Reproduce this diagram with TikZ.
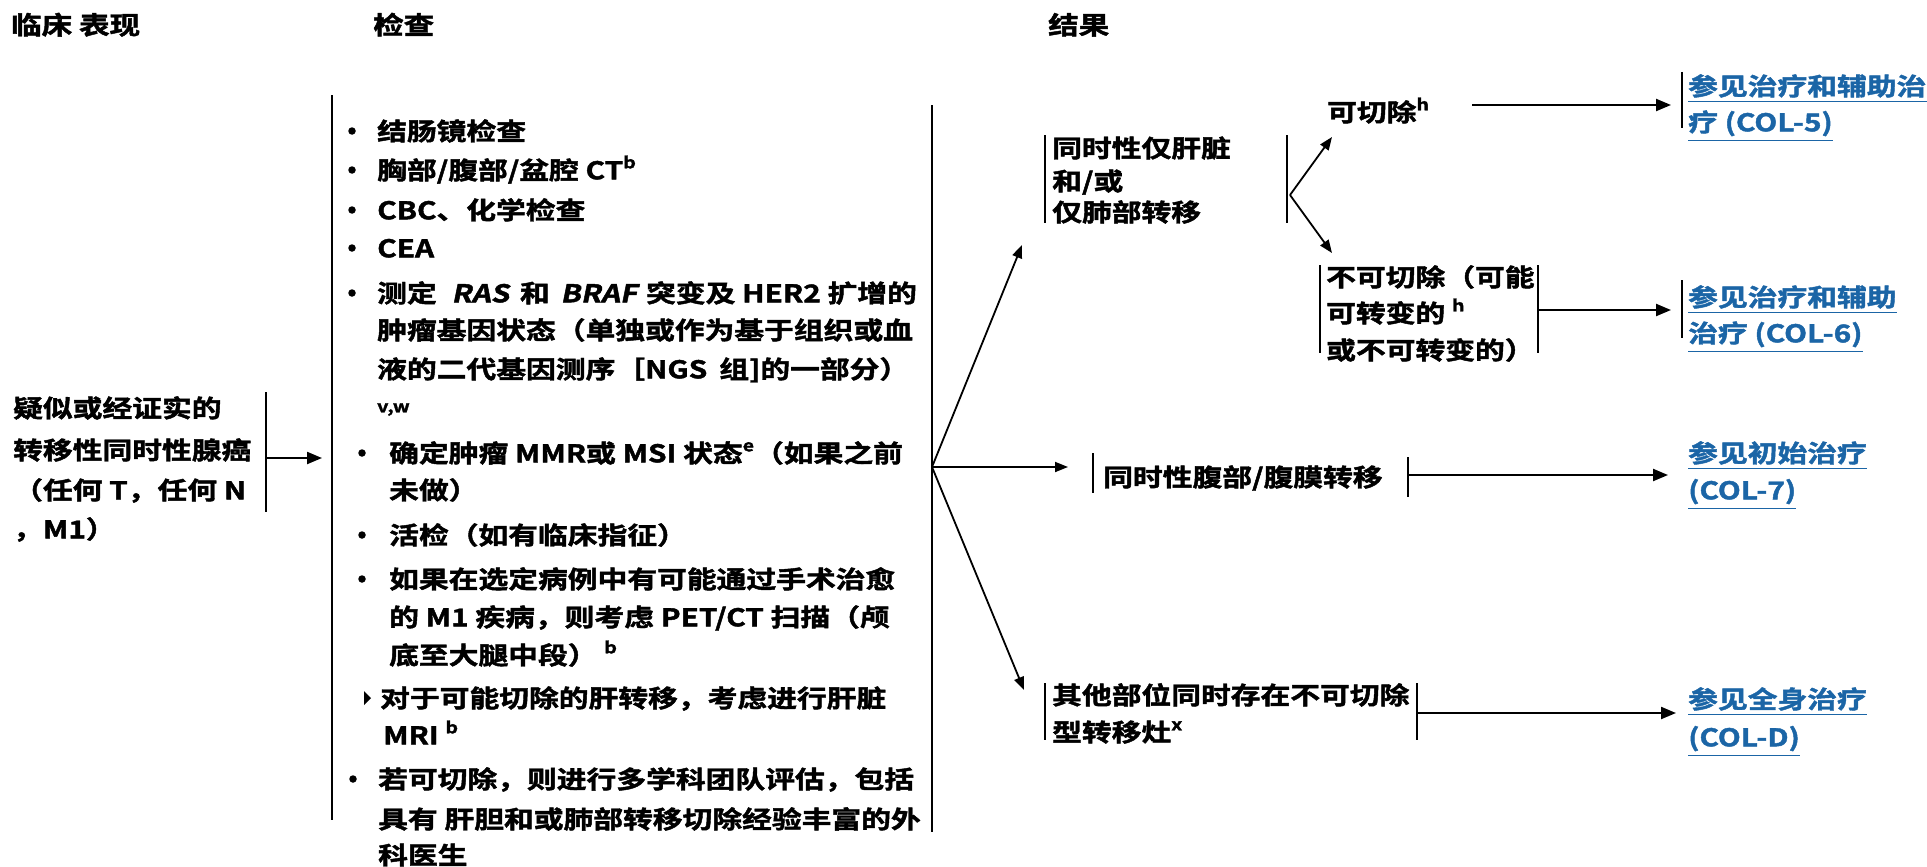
\documentclass[tikz,border=0pt]{standalone}
\usepackage{fontspec}
\newfontfamily\zh{Noto Sans CJK SC Bold}[FakeStretch=1.22,FakeBold=1.8,AutoFakeSlant=0.2]
\usetikzlibrary{arrows.meta}
\definecolor{lnk}{RGB}{27,101,166}
\newcommand\su[1]{\raisebox{0.45em}{\fontsize{16}{16}\selectfont #1}}
\begin{document}
\begin{tikzpicture}[x=1pt,y=-1pt,
  tx/.style={inner sep=0pt,anchor=west,text height=21.5pt,text depth=2.9pt,font=\zh\fontsize{24.4}{29}\selectfont},
  hd/.style={tx,font=\zh\fontsize{25}{30}\selectfont},
  lk/.style={tx,text=lnk},
  bar/.style={line width=1.8pt},
  con/.style={line width=2.2pt,-{Triangle[length=15pt,width=12pt]}},
  cons/.style={line width=1.8pt,-{Triangle[length=13pt,width=10pt]}},
  bul/.style={circle,fill,inner sep=0pt,minimum size=7.5pt},
  ul/.style={lnk,line width=1.6pt}]
\useasboundingbox (0,0) rectangle (1927,867);
% headers
\node[hd] (h1) at (11,25) {临床 表现};
\node[hd] (h2) at (373,25) {检查};
\node[hd] (h3) at (1048,25) {结果};
% presentation
\node[tx] (p1) at (13,408) {疑似或经证实的};
\node[tx] (p2) at (13,450) {转移性同时性腺癌};
\node[tx] (p3) at (13,490) {（任何 T，任何 N};
\node[tx] (p4) at (13,529) {，M1）};
\coordinate (pb1) at (266,392); \coordinate (pb2) at (266,512);
\draw[bar] (pb1) -- (pb2);
\coordinate (pa) at (266,458); \coordinate (wl) at (322,458);
\draw[con] (pa) -- (wl);
% workup column
\coordinate (wl1) at (332,95); \coordinate (wl2) at (332,820);
\draw[bar] (wl1) -- (wl2);
\coordinate (wr1) at (932,105); \coordinate (wr2) at (932,832);
\draw[bar] (wr1) -- (wr2);
\node[bul] (b1) at (352,131) {};
\node[tx] (w1) at (377,131) {结肠镜检查};
\node[bul] (b2) at (352,170) {};
\node[tx] (w2) at (377,170) {胸部/腹部/盆腔 CT\su{b}};
\node[bul] (b3) at (352,210) {};
\node[tx] (w3) at (377,210) {CBC、化学检查};
\node[bul] (b4) at (352,248) {};
\node[tx] (w4) at (377,248) {CEA};
\node[bul] (b5) at (352,293) {};
\node[tx] (w5) at (377,293) {测定\hspace{8pt} \itshape RAS\upshape{}\hspace{4pt} 和\hspace{4pt} \itshape BRAF\upshape{}\hspace{2pt} 突变及 HER2 扩增的};
\node[tx] (w6) at (377,330) {肿瘤基因状态（单独或作为基于组织或血};
\node[tx] (w7) at (377,369) {液的二代基因测序［NGS\hspace{12pt}组]的一部分）};
\node[tx,font=\zh\fontsize{16}{18}\selectfont] (w8) at (377,403) {v,w};
\node[bul] (b9) at (362,453) {};
\node[tx] (w9) at (389,453) {确定肿瘤 MMR或 MSI 状态\su{e}（如果之前};
\node[tx] (w10) at (389,490) {未做）};
\node[bul] (b11) at (362,535) {};
\node[tx] (w11) at (389,535) {活检（如有临床指征）};
\node[bul] (b12) at (362,579) {};
\node[tx] (w12) at (389,579) {如果在选定病例中有可能通过手术治愈};
\node[tx] (w13) at (389,617) {的 M1 疾病，则考虑 PET/CT 扫描（颅};
\node[tx] (w14) at (389,655) {底至大腿中段） \su{b}};
\fill (364,691) -- (371,698) -- (364,705) -- cycle;
\node[tx] (w15) at (380,698) {对于可能切除的肝转移，考虑进行肝脏};
\node[tx] (w16) at (383,735) {MRI \su{b}};
\node[bul] (b17) at (353,779) {};
\node[tx] (w17) at (378,779) {若可切除，则进行多学科团队评估，包括};
\node[tx] (w18) at (378,819) {具有 肝胆和或肺部转移切除经验丰富的外};
\node[tx] (w19) at (378,855) {科医生};
% main fork
\coordinate (fk) at (932,467);
\coordinate (t1) at (1022,245);
\coordinate (t3) at (1068,467);
\coordinate (t4) at (1024,690);
\draw[cons] (fk) -- (t1);
\draw[cons] (fk) -- (t3);
\draw[cons] (fk) -- (t4);
% outcome 1
\draw[bar] (1045,135) -- (1045,223);
\node[tx] (o1a) at (1052,148) {同时性仅肝脏};
\node[tx] (o1b) at (1052,181) {和/或};
\node[tx] (o1c) at (1052,212) {仅肺部转移};
\draw[bar] (1287,135) -- (1287,223);
\coordinate (f2) at (1290,195);
\coordinate (rt) at (1332,137);
\coordinate (ut) at (1332,253);
\draw[cons] (f2) -- (rt);
\draw[cons] (f2) -- (ut);
\node[tx] (r1) at (1327,112) {可切除\su{h}};
\coordinate (ra) at (1472,105); \coordinate (l1t) at (1671,105);
\draw[con] (ra) -- (l1t);
\draw[bar] (1682,72) -- (1682,128);
\node[lk] (l1a) at (1688,86) {参见治疗和辅助治};
\node[lk] (l1b) at (1688,122) {疗 (COL-5)};
\draw[ul] ([yshift=-3pt]l1a.south west) -- ([yshift=-3pt]l1a.south east);
\draw[ul] ([yshift=-6pt]l1b.south west) -- ([yshift=-6pt]l1b.south east);
% unresectable
\draw[bar] (1320,265) -- (1320,353);
\node[tx] (u1) at (1326,277) {不可切除（可能};
\node[tx] (u2) at (1326,313) {可转变的 \su{h}};
\node[tx] (u3) at (1326,350) {或不可转变的）};
\draw[bar] (1538,265) -- (1538,353);
\coordinate (ua) at (1538,310); \coordinate (l2t) at (1671,310);
\draw[con] (ua) -- (l2t);
\draw[bar] (1682,280) -- (1682,338);
\node[lk] (l2a) at (1688,297) {参见治疗和辅助};
\node[lk] (l2b) at (1688,333) {治疗 (COL-6)};
\draw[ul] ([yshift=-3pt]l2a.south west) -- ([yshift=-3pt]l2a.south east);
\draw[ul] ([yshift=-6pt]l2b.south west) -- ([yshift=-6pt]l2b.south east);
% abdominal
\draw[bar] (1093,453) -- (1093,493);
\node[tx] (o3) at (1103,477) {同时性腹部/腹膜转移};
\draw[bar] (1408,457) -- (1408,497);
\coordinate (o3a) at (1408,475); \coordinate (l3t) at (1668,475);
\draw[con] (o3a) -- (l3t);
\node[lk] (l3a) at (1688,453) {参见初始治疗};
\node[lk] (l3b) at (1688,490) {(COL-7)};
\draw[ul] ([yshift=-3pt]l3a.south west) -- ([yshift=-3pt]l3a.south east);
\draw[ul] ([yshift=-6pt]l3b.south west) -- ([yshift=-6pt]l3b.south east);
% other sites
\draw[bar] (1045,683) -- (1045,740);
\node[tx] (o4a) at (1052,695) {其他部位同时存在不可切除};
\node[tx] (o4b) at (1052,732) {型转移灶\su{x}};
\draw[bar] (1417,683) -- (1417,740);
\coordinate (o4r) at (1417,713); \coordinate (l4t) at (1676,713);
\draw[con] (o4r) -- (l4t);
\node[lk] (l4a) at (1688,699) {参见全身治疗};
\node[lk] (l4b) at (1688,737) {(COL-D)};
\draw[ul] ([yshift=-3pt]l4a.south west) -- ([yshift=-3pt]l4a.south east);
\draw[ul] ([yshift=-6pt]l4b.south west) -- ([yshift=-6pt]l4b.south east);
\end{tikzpicture}
\end{document}
